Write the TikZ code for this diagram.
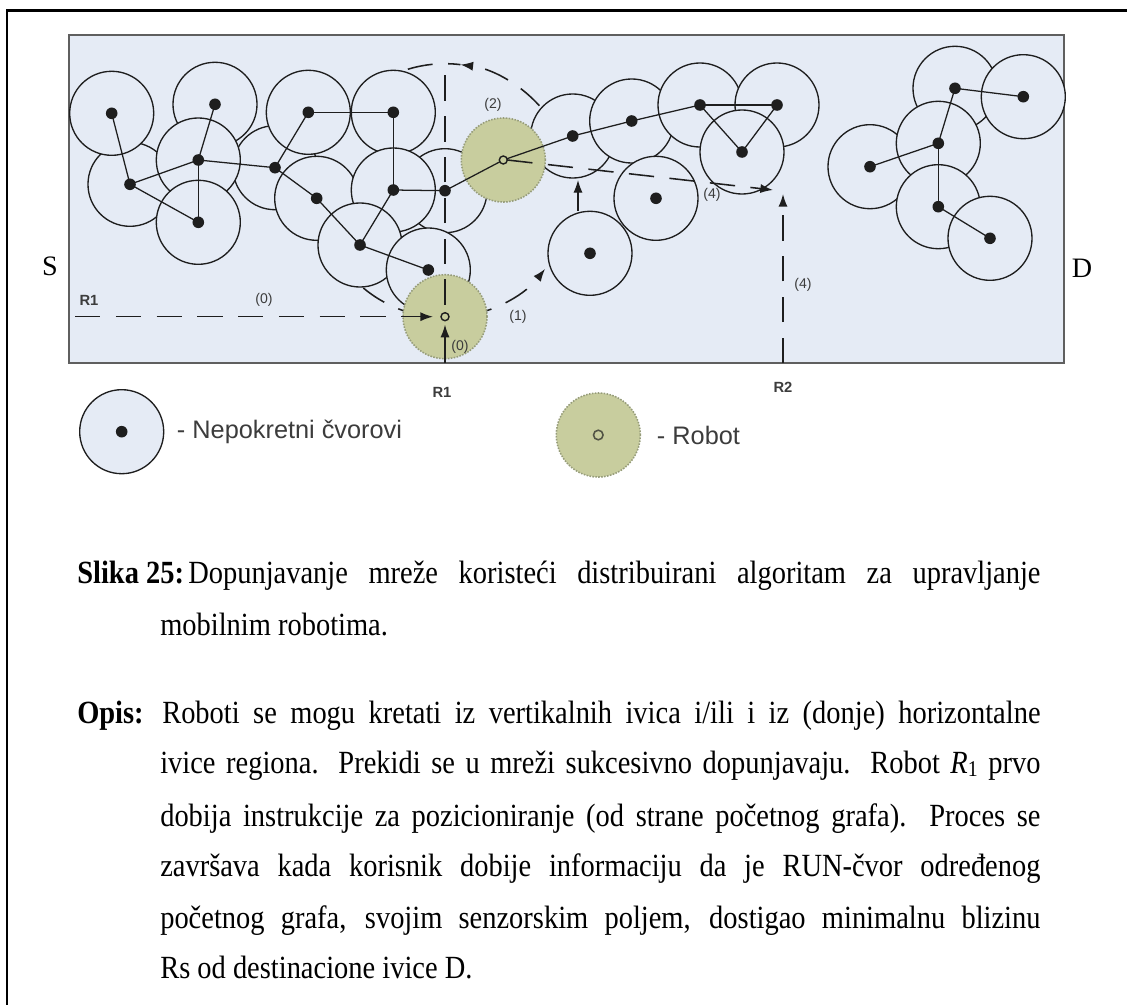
\documentclass[tikz,border=0pt]{standalone}
\usepackage{fontspec}
\setmainfont{Liberation Serif}
\setsansfont{Liberation Sans}
\newfontfamily\capfont[FakeStretch=0.88]{Liberation Serif}
\usetikzlibrary{arrows.meta}

\definecolor{fieldbg}{RGB}{229,235,245}
\definecolor{robotfill}{RGB}{200,205,158}
\definecolor{robotedge}{RGB}{150,156,122}
\definecolor{ink}{RGB}{30,30,30}
\definecolor{boxedge}{RGB}{95,95,95}
\definecolor{labelgray}{RGB}{60,60,60}

\tikzset{
  sensor/.style={circle, draw=ink, line width=0.95pt, fill=fieldbg,
    minimum size=2.1cm, inner sep=0pt},
  robot/.style={circle, draw=robotedge, densely dotted, line width=1.1pt,
    fill=robotfill, minimum size=2.1cm, inner sep=0pt},
  link/.style={draw=ink, line width=0.9pt},
  track/.style={draw=ink, line width=1.1pt, dash pattern=on 18pt off 11pt},
  tipped/.style={-{Latex[length=9pt,width=6.5pt]}},
  lbl/.style={font=\sffamily\fontsize{10}{12}\selectfont, text=labelgray, inner sep=0pt},
  blbl/.style={font=\sffamily\bfseries\fontsize{10.5}{12}\selectfont, text=labelgray, inner sep=0pt},
  legendtext/.style={font=\sffamily\fontsize{18}{20}\selectfont, text=labelgray,
    inner sep=0pt, anchor=west},
  edgeletter/.style={font=\fontsize{20}{22}\selectfont, inner sep=0pt},
  captext/.style={font=\capfont\fontsize{23}{27}\selectfont, inner sep=0pt, anchor=base west},
}

\newcommand{\dotat}[1]{\fill[ink] (#1.center) circle[radius=0.145cm];}

\begin{document}
\begin{tikzpicture}[x=0.025cm, y=-0.025cm]
\useasboundingbox (0,0) rectangle (1127,1005);

% page frame
\draw[line width=1.7pt] (7,1015) -- (7,10.5) -- (1140,10.5);

% sensing field
\draw[boxedge, line width=1.5pt, fill=fieldbg] (69,35) rectangle (1064,363);

% sensor discs, back to front
\node[sensor] (f) at (275,167.7) {};
\node[sensor] (c) at (130,184.3) {};
\node[sensor] (a) at (111.7,113.3) {};
\node[sensor] (b) at (215,104.3) {};
\node[sensor] (d) at (198.3,160) {};
\node[sensor] (e) at (198.3,222.3) {};
\node[sensor] (l) at (445,190.7) {};
\node[sensor] (i) at (316.7,198.3) {};
\node[sensor] (g) at (308.3,112.3) {};
\node[sensor] (h) at (393.3,112.3) {};
\node[sensor] (k) at (393.3,190) {};
\node[sensor] (j) at (360,245) {};
\node[sensor] (m) at (428.3,270) {};
\node[sensor] (n) at (572.7,136) {};
\node[sensor] (o) at (631.7,121) {};
\node[sensor] (p) at (700,105) {};
\node[sensor] (s) at (777,105) {};
\node[sensor] (t) at (742,152) {};
\node[sensor] (r) at (656,198.3) {};
\node[sensor] (q) at (590,253.3) {};
\node[sensor] (u) at (955,88.3) {};
\node[sensor] (v) at (1023.3,96.7) {};
\node[sensor] (x) at (870,166.7) {};
\node[sensor] (w) at (938.3,143.3) {};
\node[sensor] (y) at (938.3,206.7) {};
\node[sensor] (z) at (990,238.3) {};

% circular sweep around node l
\draw[track] (l.center) ++(130:127) arc[start angle=130, end angle=108, radius=127];
\draw[track] (l.center) ++(-107:127) arc[start angle=-107, end angle=-83, radius=127];
\draw[track, tipped] (l.center) ++(-42:127) arc[start angle=-42, end angle=-83, radius=127];
\draw[track, tipped] (l.center) ++(80:127) arc[start angle=80, end angle=38, radius=127];

% robots
\node[robot] (rob2) at (503.3,160) {};
\node[robot] (rob1) at (445,316.7) {};

% links between nodes
\draw[link] (a.center) -- (c.center);
\draw[link] (c.center) -- (d.center);
\draw[link] (c.center) -- (e.center);
\draw[link] (d.center) -- (b.center);
\draw[link] (d.center) -- (e.center);
\draw[link] (d.center) -- (f.center);
\draw[link] (f.center) -- (g.center);
\draw[link] (g.center) -- (h.center);
\draw[link] (f.center) -- (i.center);
\draw[link] (i.center) -- (j.center);
\draw[link] (j.center) -- (k.center);
\draw[link] (j.center) -- (m.center);
\draw[link] (k.center) -- (h.center);
\draw[link] (k.center) -- (l.center);
\draw[link] (l.center) -- (rob2.center) -- (n.center) -- (o.center) -- (p.center);
\draw[link] (p.center) -- (s.center);
\draw[link] (p.center) -- (t.center);
\draw[link] (t.center) -- (s.center);
\draw[link] (u.center) -- (v.center);
\draw[link] (u.center) -- (w.center);
\draw[link] (w.center) -- (x.center);
\draw[link] (w.center) -- (y.center);
\draw[link] (y.center) -- (z.center);

% dots
\foreach \nd in {a,b,c,d,e,f,g,h,i,j,k,l,m,n,o,p,s,t,r,q,u,v,w,x,y,z}{\dotat{\nd}}

% robot positions
\draw[ink, line width=1pt, fill=robotfill] (rob1.center) circle[radius=0.1cm];
\draw[ink, line width=1pt, fill=robotfill] (rob2.center) circle[radius=0.1cm];

% movement paths
\coordinate (r1left) at (75,316.7);
\coordinate (r1bot) at (445,363);
\coordinate (r1top) at (445,63);
\coordinate (r2bot) at (783,363);
\coordinate (r2end) at (783,194);
\coordinate (sweepend) at (773,190);
\draw[track, tipped] (r1left) -- ([xshift=-0.3cm]rob1.center);
\draw[link, tipped] (r1bot) -- ([yshift=-0.2cm]rob1.center);
\draw[track] ([yshift=0.3cm]rob1.center) -- (r1top);
\draw[link, tipped] (q.north -| 578,0) -- (578,180);
\draw[track, tipped] ([xshift=0.1cm]rob2.center) -- (sweepend);
\draw[track, tipped] (r2bot) -- (r2end);

% labels
\node[blbl] (lr1a) at (89,300) {R1};
\node[lbl] (l0a) at (264,300) {(0)};
\node[lbl] (l0b) at (460,347) {(0)};
\node[lbl] (l1) at (518,317) {(1)};
\node[lbl] (l2) at (493,105) {(2)};
\node[lbl] (l4a) at (712,195) {(4)};
\node[lbl] (l4b) at (803,285) {(4)};
\node[blbl] (lr1b) at (442,392) {R1};
\node[blbl] (lr2) at (783,387) {R2};
\node[edgeletter] (lblS) at (50,266) {S};
\node[edgeletter] (lblD) at (1082,268) {D};

% legend
\node[sensor] (legsensor) at (121.7,431.7) {};
\dotat{legsensor}
\node[legendtext] (legsensortext) at (176.7,431.7) {- Nepokretni čvorovi};
\node[robot] (legrobot) at (598.3,435) {};
\draw[ink!70!robotfill, line width=1.1pt] (legrobot.center) circle[radius=0.12cm];
\node[legendtext] (legrobottext) at (656.7,435) {- Robot};

% caption
\node[captext] (capl) at (77,583) {\textbf{Slika 25:}};
\node[captext] (cap1) at (188,583) {\makebox[21.3cm][s]{Dopunjavanje mreže koristeći distribuirani algoritam za upravljanje}};
\node[captext] (cap2) at (160,635) {mobilnim robotima.};
\node[captext] (opl) at (77,723) {\textbf{Opis:}};
\node[captext] (op1) at (162,723) {\makebox[21.95cm][s]{Roboti se mogu kretati iz vertikalnih ivica i/ili i iz (donje) horizontalne}};
\node[captext] (op2) at (160,773) {\makebox[22cm][s]{ivice regiona. Prekidi se u mreži sukcesivno dopunjavaju. Robot \textit{R}\raisebox{-0.25ex}{\fontsize{16}{17}\selectfont 1} prvo}};
\node[captext] (op3) at (160,826) {\makebox[22cm][s]{dobija instrukcije za pozicioniranje (od strane početnog grafa). Proces se}};
\node[captext] (op4) at (160,876) {\makebox[22cm][s]{završava kada korisnik dobije informaciju da je RUN-čvor određenog}};
\node[captext] (op5) at (160,928) {\makebox[22cm][s]{početnog grafa, svojim senzorskim poljem, dostigao minimalnu blizinu}};
\node[captext] (op6) at (160,978) {Rs od destinacione ivice D.};
\end{tikzpicture}
\end{document}
